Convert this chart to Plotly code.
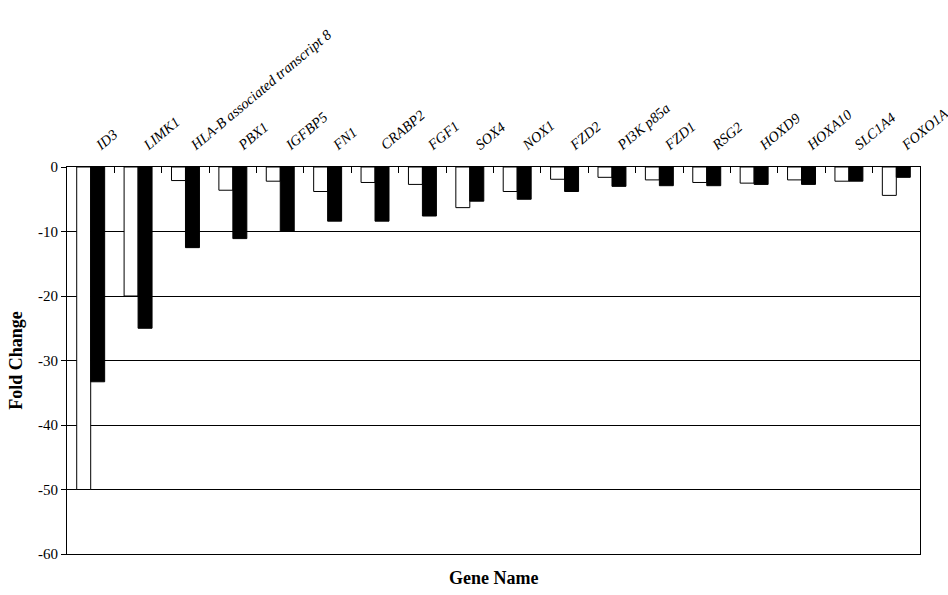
import plotly.graph_objects as go

genes = ["ID3", "LIMK1", "HLA-B associated transcript 8", "PBX1", "IGFBP5", "FN1",
         "CRABP2", "FGF1", "SOX4", "NOX1", "FZD2", "PI3K p85a", "FZD1", "RSG2",
         "HOXD9", "HOXA10", "SLC1A4", "FOXO1A"]
series_open = [-50, -20, -2.1, -3.6, -2.2, -3.8, -2.4, -2.7, -6.3, -3.8, -1.9,
               -1.6, -2.0, -2.4, -2.5, -2.0, -2.2, -4.4]
series_filled = [-33.3, -25, -12.5, -11.1, -10.0, -8.4, -8.4, -7.6, -5.3, -5.0, -3.8,
                 -3.0, -2.9, -2.9, -2.7, -2.7, -2.2, -1.6]
y_ticks = [0, -10, -20, -30, -40, -50, -60]

serif = "Liberation Serif, Times New Roman, serif"

fig = go.Figure()
fig.add_trace(go.Bar(x=genes, y=series_open, marker=dict(color="white", line=dict(color="black", width=1))))
fig.add_trace(go.Bar(x=genes, y=series_filled, marker=dict(color="black", line=dict(color="black", width=1))))

fig.update_layout(
    width=948, height=595,
    margin=dict(l=67, r=28, t=167, b=41),
    paper_bgcolor="white", plot_bgcolor="white",
    barmode="group", bargap=0.41, bargroupgap=0,
    showlegend=False,
    font=dict(family=serif, color="black", size=13),
)
fig.update_xaxes(
    side="top", tickangle=-40, tickson="boundaries", ticks="inside", ticklen=6,
    tickcolor="black", showline=True, linecolor="black", linewidth=1, mirror=True,
    showgrid=False, tickfont=dict(family=serif, size=14.5, style="italic"),
    ticklabelstandoff=8, ticklabelshift=6, automargin=False,
)
fig.update_yaxes(
    range=[-60, 0], tickvals=y_ticks, ticktext=[str(v) for v in y_ticks],
    ticks="outside", ticklen=5, tickcolor="black",
    showline=True, linecolor="black", linewidth=1, mirror=True,
    showgrid=True, gridcolor="black", gridwidth=1, zeroline=False,
    tickfont=dict(family=serif, size=15), automargin=False,
    title=dict(text="<b>Fold Change</b>", font=dict(family=serif, size=18), standoff=10),
)
fig.add_annotation(text="<b>Gene Name</b>", xref="paper", yref="paper", x=0.5, y=0,
                   yanchor="middle", yshift=-24, showarrow=False,
                   font=dict(family=serif, size=18))

fig.write_html("out.html")
